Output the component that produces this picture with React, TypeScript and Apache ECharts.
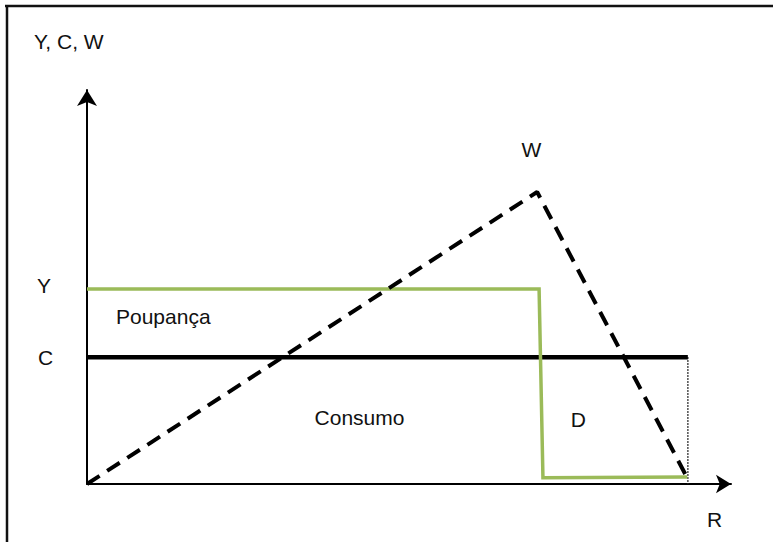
import React, { useEffect, useRef } from "react";
import * as echarts from "echarts";

// Data (arbitrary units: R from 0 to 100, value from 0 to 100)
const incomeY: [number, number][] = [
  [0, 49.5],
  [70.2, 49.5],
  [70.8, 1.6],
  [93.2, 1.8],
];
const consumptionC: [number, number][] = [
  [0, 32.2],
  [93.3, 32.2],
];
const deathMarker: [number, number][] = [
  [93.3, 32.2],
  [93.3, 0],
];
const wealthW: [number, number][] = [
  [0, 0],
  [69.9, 74.1],
  [92.9, 2.5],
];

const FONT = "'Liberation Sans', Arial, sans-serif";

export default function App() {
  const ref = useRef<HTMLDivElement>(null);
  useEffect(() => {
    if (!ref.current) return;
    const chart = echarts.init(ref.current, undefined, { renderer: "svg" });
    const txt = (
      text: string,
      x: number,
      y: number,
      align: "left" | "center" = "center"
    ) => ({
      type: "text",
      x,
      y,
      style: {
        text,
        fill: "#111",
        font: `21px ${FONT}`,
        align,
        verticalAlign: "middle",
      },
    });
    chart.setOption({
      animation: false,
      backgroundColor: "#fff",
      grid: { left: 87, top: 90, right: 42, bottom: 58 },
      xAxis: {
        type: "value",
        min: 0,
        max: 100,
        axisLine: {
          show: true,
          symbol: ["none", "arrow"],
          symbolSize: [14, 15],
          lineStyle: { color: "#000", width: 2 },
        },
        axisTick: { show: false },
        axisLabel: { show: false },
        splitLine: { show: false },
      },
      yAxis: {
        type: "value",
        min: 0,
        max: 100,
        axisLine: {
          show: true,
          symbol: ["none", "arrow"],
          symbolSize: [15, 16],
          lineStyle: { color: "#000", width: 2 },
        },
        axisTick: { show: false },
        axisLabel: { show: false },
        splitLine: { show: false },
      },
      series: [
        {
          type: "line",
          data: consumptionC,
          showSymbol: false,
          lineStyle: { color: "#000", width: 4.5 },
          z: 3,
        },
        {
          type: "line",
          data: deathMarker,
          showSymbol: false,
          lineStyle: { color: "#222", width: 1.6, type: [1.6, 1.4] },
          z: 2,
        },
        {
          type: "line",
          data: incomeY,
          showSymbol: false,
          lineStyle: { color: "#9BBB59", width: 3.5, join: "miter" },
          z: 4,
        },
        {
          type: "line",
          data: wealthW,
          showSymbol: false,
          lineStyle: { color: "#000", width: 4, type: [15, 9] },
          z: 5,
        },
      ],
      graphic: [
        {
          type: "line",
          shape: { x1: 5, y1: 6, x2: 773, y2: 6 },
          style: { stroke: "#111", lineWidth: 2.5 },
        },
        {
          type: "line",
          shape: { x1: 7, y1: 5, x2: 7, y2: 542 },
          style: { stroke: "#111", lineWidth: 2.5 },
        },
        txt("Y, C, W", 34, 41, "left"),
        txt("W", 531.5, 149.5),
        txt("Y", 44, 285),
        txt("C", 45.5, 357),
        txt("Poupança", 116, 316, "left"),
        txt("Consumo", 359.5, 417),
        txt("D", 578.3, 419),
        txt("R", 714.7, 519.5),
      ],
    });
    return () => chart.dispose();
  }, []);
  return (
    <div
      ref={ref}
      style={{ position: "fixed", left: 0, top: 0, width: 773, height: 542 }}
    />
  );
}
